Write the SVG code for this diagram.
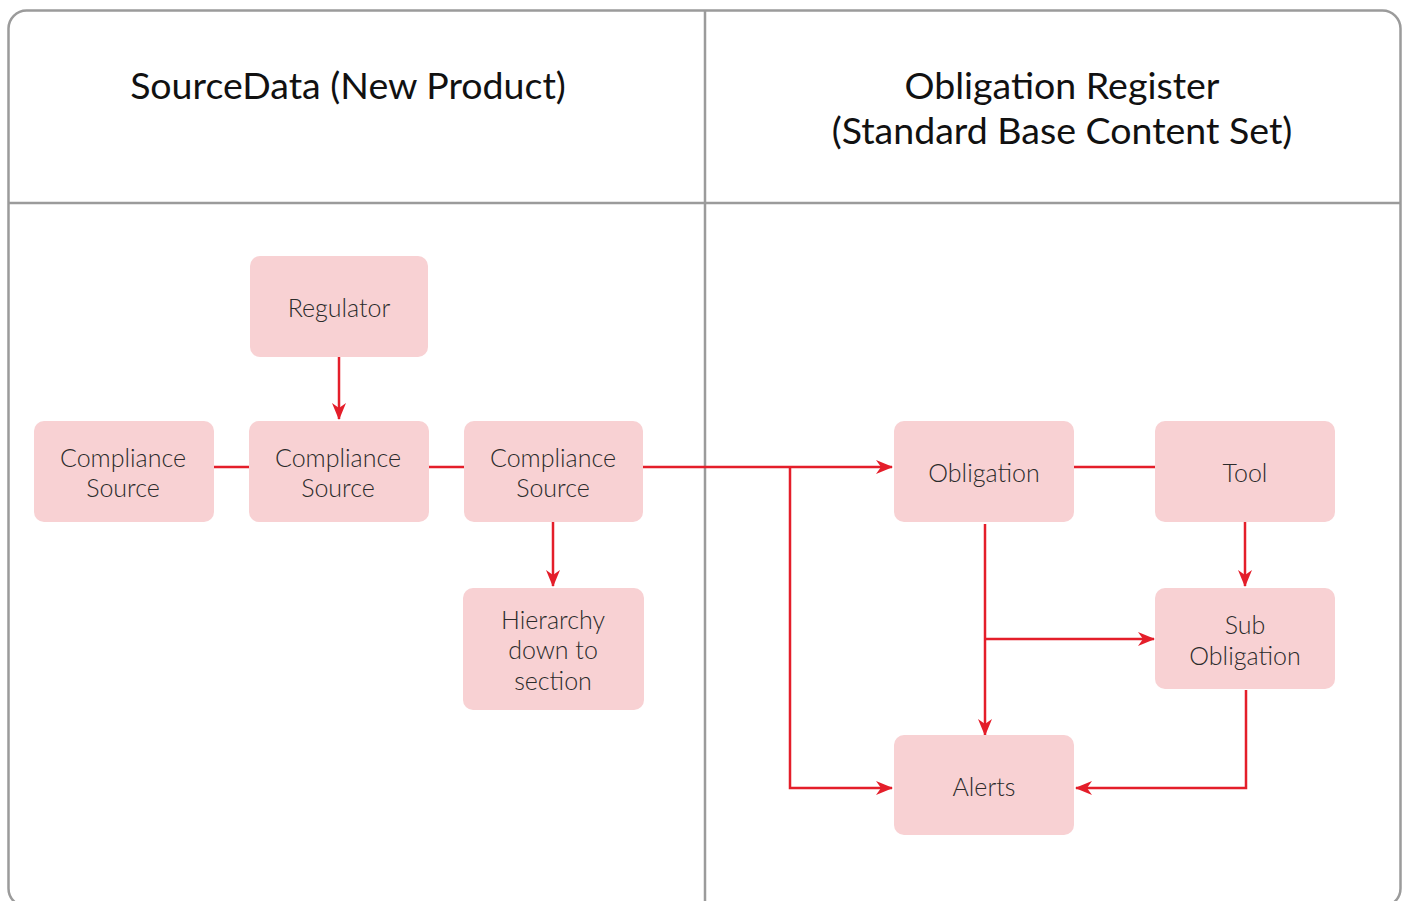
<svg xmlns="http://www.w3.org/2000/svg" width="1407" height="901" viewBox="0 0 1407 901">
<style>
.frame{fill:#fff;stroke:#9b9b9b;stroke-width:2.5}
.div{stroke:#9b9b9b;stroke-width:2.5;fill:none}
.hdr{font-family:Lato,"Liberation Sans",sans-serif;font-size:37.5px;fill:#111;text-anchor:middle}
.box{fill:#f8d1d3}
.lbl{font-family:Lato,"Liberation Sans",sans-serif;font-weight:300;font-size:25px;fill:#2b2b2b;text-anchor:middle}
.c{stroke:#e41e2a;stroke-width:2.5;fill:none}
.a{marker-end:url(#arr)}
</style>
<defs>
<marker id="arr" markerWidth="18" markerHeight="14" refX="16" refY="7" orient="auto" markerUnits="userSpaceOnUse">
<path d="M0,0 L17,7 L0,14 L5,7 Z" fill="#e41e2a"/>
</marker>
</defs>
<rect class="frame" x="8.5" y="10.5" width="1392" height="896" rx="18"/>
<line class="div" x1="8.5" y1="203" x2="1400.5" y2="203"/>
<line class="div" x1="705" y1="10.5" x2="705" y2="901"/>
<text class="hdr" x="348" y="99">SourceData (New Product)</text>
<text class="hdr" x="1062" y="99">Obligation Register</text>
<text class="hdr" x="1062" y="144">(Standard Base Content Set)</text>
<g id="connectors">
<path class="c a" d="M339,357 V419"/>
<path class="c" d="M214,467 H249"/>
<path class="c" d="M429,467 H464"/>
<path class="c a" d="M643,467 H892"/>
<path class="c a" d="M790,467 V788 H892"/>
<path class="c a" d="M553,522 V586"/>
<path class="c" d="M1074,467 H1155"/>
<path class="c a" d="M1245,522 V586"/>
<path class="c a" d="M985,524 V735"/>
<path class="c a" d="M985,639 H1154"/>
<path class="c a" d="M1246,690 V788 H1076"/>
</g>
<g id="regulator"><rect class="box" x="250" y="256" width="178" height="101" rx="10"/><text class="lbl" x="339" y="317">Regulator</text></g>
<g id="cs1"><rect class="box" x="34" y="421" width="180" height="101" rx="10"/><text class="lbl" x="123" y="467">Compliance</text><text class="lbl" x="123" y="497">Source</text></g>
<g id="cs2"><rect class="box" x="249" y="421" width="180" height="101" rx="10"/><text class="lbl" x="338" y="467">Compliance</text><text class="lbl" x="338" y="497">Source</text></g>
<g id="cs3"><rect class="box" x="464" y="421" width="179" height="101" rx="10"/><text class="lbl" x="553" y="467">Compliance</text><text class="lbl" x="553" y="497">Source</text></g>
<g id="hierarchy"><rect class="box" x="463" y="588" width="181" height="122" rx="10"/><text class="lbl" x="553" y="629">Hierarchy</text><text class="lbl" x="553" y="659">down to</text><text class="lbl" x="553" y="690">section</text></g>
<g id="obligation"><rect class="box" x="894" y="421" width="180" height="101" rx="10"/><text class="lbl" x="984" y="482">Obligation</text></g>
<g id="tool"><rect class="box" x="1155" y="421" width="180" height="101" rx="10"/><text class="lbl" x="1245" y="482">Tool</text></g>
<g id="subobligation"><rect class="box" x="1155" y="588" width="180" height="101" rx="10"/><text class="lbl" x="1245" y="634">Sub</text><text class="lbl" x="1245" y="665">Obligation</text></g>
<g id="alerts"><rect class="box" x="894" y="735" width="180" height="100" rx="10"/><text class="lbl" x="984" y="796">Alerts</text></g>
</svg>
